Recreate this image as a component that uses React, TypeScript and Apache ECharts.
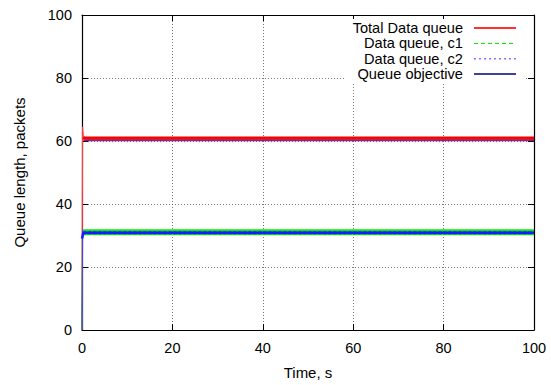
import React, { useEffect, useRef } from "react";
import * as echarts from "echarts";

const seriesNames = ["Total Data queue", "Data queue, c1", "Data queue, c2", "Queue objective"];
const xTicks = [0, 20, 40, 60, 80, 100];
const yTicks = [0, 20, 40, 60, 80, 100];

// [time s, packets] — start-up transient and steady state
const totalQueueStart: [number, number][] = [[0, 0], [0.12, 64.5], [0.3, 61.2]];
const totalQueue: [number, number][] = [[0.3, 61.2], [0.5, 60.9], [100, 60.9]];
const totalObjective: [number, number][] = [[0.3, 60.2], [100, 60.2]];
const queueC1Start: [number, number][] = [[0, 0], [0.1, 31.5], [0.3, 31.0]];
const queueC1: [number, number][] = [[0.3, 31.0], [100, 31.0]];
const queueC2Start: [number, number][] = [[0, 0], [0.15, 31.8], [0.3, 30.9]];
const queueC2: [number, number][] = [[0.3, 30.9], [100, 30.9]];
const queueObjective: [number, number][] = [[0, 29.0], [0.3, 30.9], [100, 30.9]];

const FONT = "'Liberation Sans', Arial, Helvetica, sans-serif";

export default function App() {
  const ref = useRef<HTMLDivElement>(null);
  useEffect(() => {
    if (!ref.current) return;
    const chart = echarts.init(ref.current, undefined, { renderer: "svg" });
    const legendStyles = [
      { color: "#ff3030", width: 2, type: "solid" },
      { color: "#00dd00", width: 1, type: [4, 3] },
      { color: "#8f6fff", width: 1.5, type: [2, 3] },
      { color: "#00007f", width: 1.5, type: "solid" },
    ];
    const rowY = [28, 43.4, 58.7, 74];
    const legendGraphics: any[] = [
      { type: "rect", shape: { x: 345, y: 19, width: 180, height: 63 }, style: { fill: "#fff" }, z: 50 },
    ];
    seriesNames.forEach((n, i) => {
      legendGraphics.push({
        type: "text",
        x: 463,
        y: rowY[i],
        z: 51,
        style: { text: n, fill: "#000", font: `14.6px ${FONT}`, lineHeight: 14, align: "right", verticalAlign: "middle" },
      });
      legendGraphics.push({
        type: "line",
        z: 51,
        shape: { x1: 474, y1: rowY[i], x2: 516, y2: rowY[i] },
        style: { stroke: legendStyles[i].color, lineWidth: legendStyles[i].width, lineDash: legendStyles[i].type === "solid" ? null : legendStyles[i].type },
      });
    });

    const axisCommon = {
      type: "value" as const,
      min: 0,
      max: 100,
      interval: 20,
      axisLine: { show: true, onZero: false, lineStyle: { color: "#000", width: 1.2 } },
      axisTick: { show: true, inside: true, length: 6, lineStyle: { color: "#000", width: 1 } },
    };
    const grid = { show: true, lineStyle: { color: "#555", width: 0.8, type: [1, 2] } };

    chart.setOption({
      animation: false,
      textStyle: { fontFamily: FONT },
      grid: { left: 82, right: 17, top: 15, bottom: 47, containLabel: false },
      xAxis: [
        {
          ...axisCommon,
          position: "bottom",
          name: "Time, s",
          nameLocation: "middle",
          nameGap: 35,
          nameTextStyle: { fontSize: 15, color: "#000", fontFamily: FONT },
          axisLabel: { fontSize: 14.5, color: "#000", margin: 10, fontFamily: FONT, formatter: (v: number) => (xTicks.includes(v) ? String(v) : "") },
          splitLine: grid,
        },
        { ...axisCommon, position: "top", axisLabel: { show: false }, splitLine: { show: false } },
      ],
      yAxis: [
        {
          ...axisCommon,
          position: "left",
          name: "Queue length, packets",
          nameLocation: "middle",
          nameGap: 55,
          nameRotate: 90,
          nameTextStyle: { fontSize: 15, color: "#000", fontFamily: FONT },
          axisLabel: { fontSize: 14.5, color: "#000", margin: 10, fontFamily: FONT, formatter: (v: number) => (yTicks.includes(v) ? String(v) : "") },
          splitLine: grid,
        },
        { ...axisCommon, position: "right", axisLabel: { show: false }, splitLine: { show: false } },
      ],
      graphic: legendGraphics,
      series: [
        { name: seriesNames[0], type: "line", data: totalQueueStart, showSymbol: false, lineStyle: { color: "#ff4040", width: 1.2 }, z: 3 },
        { name: seriesNames[0], type: "line", data: totalQueue, showSymbol: false, lineStyle: { color: "#ff0000", width: 3.2 }, z: 3 },
        { name: seriesNames[3], type: "line", data: totalObjective, showSymbol: false, lineStyle: { color: "#70006a", width: 1.6, opacity: 0.85 }, z: 4 },
        { name: seriesNames[1], type: "line", data: queueC1Start, showSymbol: false, lineStyle: { color: "#00cc00", width: 1 }, z: 5 },
        { name: seriesNames[1], type: "line", data: queueC1, showSymbol: false, lineStyle: { color: "#00ee00", width: 6, type: "solid" }, z: 5 },
        { name: seriesNames[2], type: "line", data: queueC2Start, showSymbol: false, lineStyle: { color: "#4a3aff", width: 1 }, z: 6 },
        { name: seriesNames[2], type: "line", data: queueC2, showSymbol: false, lineStyle: { color: "#4a3aff", width: 3.5, type: [3, 2] }, z: 6 },
        { name: seriesNames[3], type: "line", data: queueObjective, showSymbol: false, lineStyle: { color: "#1a1aff", width: 2.5 }, z: 7 },
      ],
    });
    return () => chart.dispose();
  }, []);
  return <div ref={ref} style={{ position: "fixed", left: 0, top: 0, width: 551, height: 385, background: "#fff" }} />;
}
